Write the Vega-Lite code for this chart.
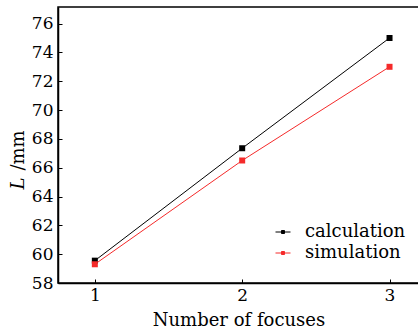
{
  "$schema": "https://vega.github.io/schema/vega-lite/v6.json",
  "width": 361,
  "height": 276,
  "autosize": "none",
  "padding": {"left": 58, "top": 7, "right": 0, "bottom": 53},
  "background": "white",
  "config": {
    "font": "DejaVu Serif",
    "view": {"stroke": "black", "strokeWidth": 1.5},
    "axis": {
      "grid": false,
      "domainColor": "black",
      "domainWidth": 1.5,
      "tickColor": "black",
      "tickSize": -4,
      "labelColor": "black",
      "labelFontSize": 17,
      "titleColor": "black",
      "titleFontSize": 18,
      "titleFontWeight": "normal"
    }
  },
  "data": {
    "values": [
      {"focuses": 1, "L": 59.55, "series": "calculation"},
      {"focuses": 2, "L": 67.35, "series": "calculation"},
      {"focuses": 3, "L": 75.0, "series": "calculation"},
      {"focuses": 1, "L": 59.3, "series": "simulation"},
      {"focuses": 2, "L": 66.5, "series": "simulation"},
      {"focuses": 3, "L": 73.0, "series": "simulation"}
    ]
  },
  "encoding": {
    "x": {
      "field": "focuses",
      "type": "quantitative",
      "scale": {"domain": [0.75, 3.2], "nice": false, "zero": false},
      "axis": {"values": [1, 2, 3], "title": "Number of focuses", "labelPadding": 8, "titlePadding": 8, "format": "d"}
    },
    "color": {
      "field": "series",
      "type": "nominal",
      "scale": {"domain": ["calculation", "simulation"], "range": ["#000000", "#f52a2a"]},
      "legend": {
        "title": null,
        "orient": "none",
        "legendX": 216,
        "legendY": 216,
        "labelFontSize": 18,
        "labelColor": "black",
        "symbolType": "M-1.5,0H1.5M-0.3,-0.3H0.3V0.3H-0.3Z",
        "symbolSize": 100,
        "symbolStrokeWidth": 1,
        "labelOffset": 13,
        "rowPadding": 3,
        "encode": {"symbols": {"update": {"fill": {"scale": "color", "field": "value"}}}}
      }
    }
  },
  "layer": [
    {
      "mark": {"type": "line", "strokeWidth": 1},
      "encoding": {
        "y": {
          "field": "L",
          "type": "quantitative",
          "scale": {"domain": [58, 77.15], "nice": false, "zero": false},
          "axis": {"values": [58, 60, 62, 64, 66, 68, 70, 72, 74, 76], "title": "/mm", "labelPadding": 9, "titleX": -31, "titleY": 143}
        }
      }
    },
    {
      "mark": {"type": "point", "shape": "square", "filled": true, "size": 36, "opacity": 1},
      "encoding": {
        "y": {
          "field": "L",
          "type": "quantitative",
          "scale": {"domain": [58, 77.15], "nice": false, "zero": false},
          "axis": {"orient": "left", "title": "L", "titleFontStyle": "italic", "labels": false, "ticks": false, "domain": false, "titleX": -31, "titleY": 176}
        }
      }
    }
  ],
  "resolve": {"axis": {"y": "independent"}}
}
